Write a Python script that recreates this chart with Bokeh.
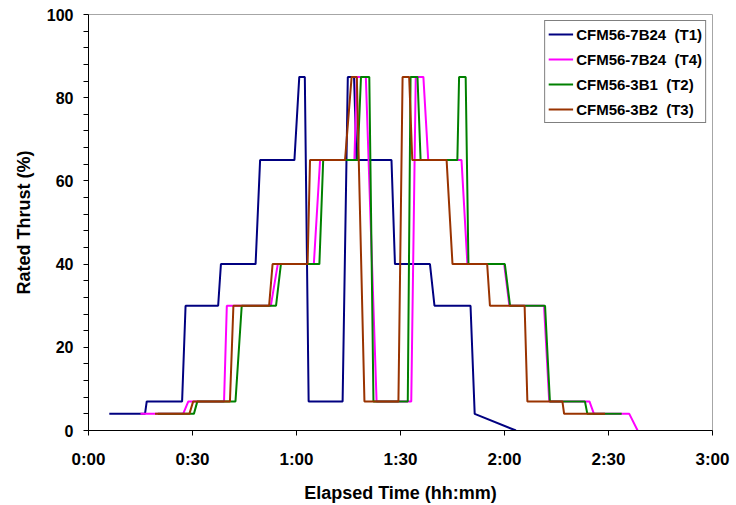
from bokeh.plotting import figure
from bokeh.models import FixedTicker, Range1d
from bokeh.embed import file_html
from bokeh.resources import INLINE

# Elapsed time in minutes, rated thrust in %
t1_min = [6, 16.3, 16.8, 27, 28, 37.4, 38.2, 48.2, 49.5, 59.4, 60.8, 62.4, 63.5, 73.3, 74.8, 76.6,
          77.3, 87.4, 88.4, 98.5, 99.8, 110.2, 111.4, 123.3]
t1_thrust = [4, 4, 7, 7, 30, 30, 40, 40, 65, 65, 85, 85, 7, 7, 85, 85,
             65, 65, 40, 40, 30, 30, 4, 0]

t4_min = [15, 27.3, 28.8, 39.1, 39.9, 52.6, 54.6, 65, 66.8, 76.7, 77.4, 80, 83.1, 93.1, 94.4, 96.6,
          98, 107.6, 109.3, 119.9, 121.4, 131.4, 132.9, 144.5, 145.8, 156, 158.4]
t4_thrust = [4, 4, 7, 7, 30, 30, 40, 40, 65, 65, 85, 85, 7, 7, 85, 85,
             65, 65, 40, 40, 30, 30, 7, 7, 4, 4, 0]

t2_min = [20, 30.4, 31.4, 42.4, 44.2, 54.1, 55.5, 66.6, 67.7, 77.6, 78.6, 81, 82.2, 92.1, 92.9, 94.9,
          95.8, 106.4, 106.9, 108.8, 109.6, 120.1, 121.6, 131.7, 133.1, 143.2, 143.9, 153.8]
t2_thrust = [4, 4, 7, 7, 30, 30, 40, 40, 65, 65, 85, 85, 7, 7, 85, 85,
             65, 65, 85, 85, 40, 40, 30, 30, 7, 7, 4, 4]

t3_min = [19.2, 29.1, 30.2, 40.8, 41.8, 52.1, 53.1, 63.2, 63.9, 74, 75.9, 77.4, 79.6, 89.4, 90.6, 92.5,
          93.4, 103.3, 105, 115, 115.8, 125.8, 126.6, 136.7, 137.2, 149]
t3_thrust = [4, 4, 7, 7, 30, 30, 40, 40, 65, 65, 85, 85, 7, 7, 85, 85,
             65, 65, 40, 40, 30, 30, 7, 7, 4, 4]

series_names = ["CFM56-7B24  (T1)", "CFM56-7B24  (T4)", "CFM56-3B1  (T2)", "CFM56-3B2  (T3)"]
series_colors = ["#000080", "#FF00FF", "#008000", "#993300"]

x_ticks = [0, 30, 60, 90, 120, 150, 180]
x_tick_labels = ["0:00", "0:30", "1:00", "1:30", "2:00", "2:30", "3:00"]
y_ticks = [0, 20, 40, 60, 80, 100]
y_minor = [v for v in range(0, 101, 4) if v % 20 != 0]

FONT = "Liberation Sans"

p = figure(width=736, height=505, output_backend="svg", toolbar_location=None,
           x_range=Range1d(0, 180), y_range=Range1d(0, 100),
           min_border_left=88, min_border_right=24, min_border_top=14, min_border_bottom=74)

for xs, ys, name, col in zip([t1_min, t4_min, t2_min, t3_min],
                             [t1_thrust, t4_thrust, t2_thrust, t3_thrust],
                             series_names, series_colors):
    p.line(xs, ys, line_color=col, line_width=2, legend_label=name)

p.xgrid.visible = False
p.ygrid.visible = False
p.outline_line_color = "#a6a6a6"
p.outline_line_width = 1
p.background_fill_color = "white"
p.border_fill_color = "white"

p.xaxis.ticker = FixedTicker(ticks=x_ticks, minor_ticks=[])
p.xaxis.major_label_overrides = {t: l for t, l in zip(x_ticks, x_tick_labels)}
p.yaxis.ticker = FixedTicker(ticks=y_ticks, minor_ticks=y_minor)

for ax in [p.xaxis[0], p.yaxis[0]]:
    ax.axis_line_color = "#000000"
    ax.axis_line_width = 1
    ax.major_tick_line_color = "#000000"
    ax.minor_tick_line_color = "#000000"
    ax.major_tick_in = 0
    ax.major_tick_out = 5
    ax.minor_tick_in = 0
    ax.minor_tick_out = 5
    ax.major_label_text_font = FONT
    ax.major_label_text_font_style = "bold"
    ax.major_label_text_font_size = "16px"
    ax.major_label_text_color = "#000000"
    ax.axis_label_text_font = FONT
    ax.axis_label_text_font_style = "bold"
    ax.axis_label_text_font_size = "18px"
    ax.axis_label_text_color = "#000000"

p.xaxis.major_label_text_font_size = "17px"
p.xaxis.axis_label = "Elapsed Time (hh:mm)"
p.yaxis.axis_label = "Rated Thrust (%)"
p.xaxis.major_label_standoff = 14
p.yaxis.major_label_standoff = 10
p.xaxis.axis_label_standoff = 11
p.yaxis.axis_label_standoff = 10

lg = p.legend[0]
lg.location = "top_right"
lg.margin = 6
lg.padding = 3
lg.spacing = 5
lg.glyph_width = 25
lg.glyph_height = 20
lg.label_height = 20
lg.label_standoff = 3
lg.label_text_font = FONT
lg.label_text_font_style = "bold"
lg.label_text_font_size = "15px"
lg.label_text_color = "#000000"
lg.border_line_color = "#000000"
lg.border_line_width = 1
lg.background_fill_color = "white"
lg.background_fill_alpha = 1

open("out.html", "w").write(file_html(p, INLINE))
